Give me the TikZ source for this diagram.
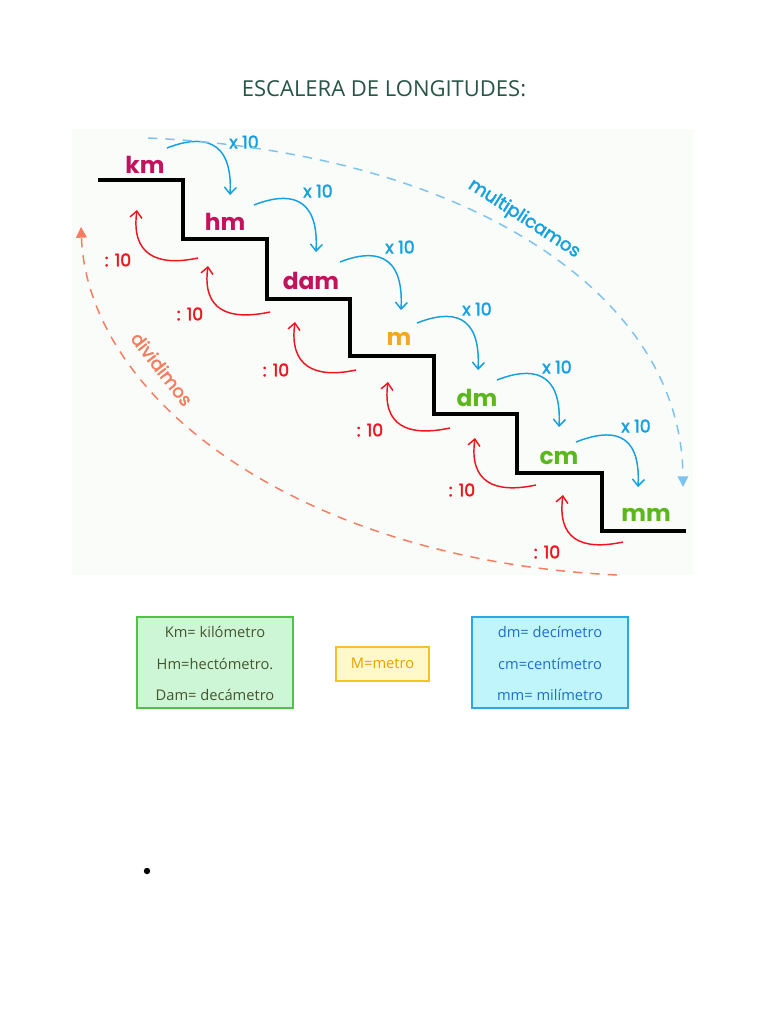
\documentclass[tikz,border=0pt]{standalone}
\usepackage{fontspec}
\setmainfont{Open Sans}
\newfontfamily\pop{Poppins}
\newfontfamily\popm{Poppins}[FakeBold=2]
\newfontfamily\boxfont{Open Sans}
\usetikzlibrary{arrows.meta,calc}
\definecolor{crim}{RGB}{194,20,94}
\definecolor{orng}{RGB}{245,166,35}
\definecolor{grn}{RGB}{92,182,30}
\definecolor{blu}{RGB}{20,160,225}
\definecolor{dblu}{RGB}{125,195,238}
\definecolor{rd}{RGB}{240,20,30}
\definecolor{salm}{RGB}{245,125,95}
\definecolor{ttl}{RGB}{40,85,70}
\definecolor{panel}{RGB}{249,252,249}
\tikzset{
  unitlbl/.style={font=\pop\bfseries\fontsize{17.5}{18}\selectfont, inner sep=0pt},
  mularrow/.style={draw=blu, line width=1.1pt, -{Straight Barb[length=5pt,width=9pt]}},
  divarrow/.style={draw=rd, line width=1.1pt, -{Straight Barb[length=5pt,width=9pt]}},
  mullbl/.style={text=blu, font=\popm\fontsize{13}{14}\selectfont, inner sep=0pt},
  divlbl/.style={text=rd, font=\popm\fontsize{13}{14}\selectfont, inner sep=0pt},
  bigdash/.style={line width=1.1pt, dash pattern=on 7pt off 6pt},
  infobox/.style={line width=0.8pt, inner sep=0pt},
  boxtxt/.style={font=\boxfont\fontsize{11}{12}\selectfont, inner sep=0pt}
}
\begin{document}
\begin{tikzpicture}[x=0.75pt,y=-0.75pt]
\useasboundingbox (0,0) rectangle (768,1024);
\fill[white] (0,0) rectangle (768,1024);
% title
\node[text=ttl, font=\fontsize{16.5}{18}\selectfont] (title) at (384,89) {ESCALERA DE LONGITUDES:};
% panel
\fill[panel] (72,129) rectangle (693,575);
% stairs
\draw[line width=2.4pt, line join=miter] (98,180) -| (183,239) -| (267,299) -| (350,356) -| (434,414) -| (517,473) -| (602,531) -- (686,531);
% unit labels
\node[unitlbl, text=crim] (km) at (145,165) {km};
\node[unitlbl, text=crim] (hm) at (225,222) {hm};
\node[unitlbl, text=crim] (dam) at (311,281) {dam};
\node[unitlbl, text=orng] (m) at (399,339) {m};
\node[unitlbl, text=grn] (dm) at (477,398) {dm};
\node[unitlbl, text=grn] (cm) at (559,458) {cm};
\node[unitlbl, text=grn] (mm) at (646,515) {mm};
% multiply arrows
\foreach \sx/\sy/\tx/\ty/\lx/\ly [count=\i] in {
  167/148/230/195/244/142,
  254/205/316/252/318/191,
  340/262/401/310/400/247,
  417/323/478/370/477/309,
  497/380/559/427/557/367,
  576/442/638/487/636/426}{
  \coordinate (b\i s) at (\sx,\sy);
  \coordinate (b\i t) at (\tx,\ty);
  \draw[mularrow] (b\i s) .. controls ($(b\i s)+(33,-13)$) and ($(b\i t)+(3,-58)$) .. (b\i t);
  \node[mullbl] (bl\i) at (\lx,\ly) {x 10};
}
% divide arrows
\foreach \sx/\sy/\tx/\ty/\lx/\ly [count=\i] in {
  198/258/137/210/118/260,
  270/312/208/266/190/314,
  356/370/295/322/276/370,
  450/428/388/382/370/430,
  536/485/475/438/462/490,
  623/542/563/495/547/552}{
  \coordinate (r\i s) at (\sx,\sy);
  \coordinate (r\i t) at (\tx,\ty);
  \draw[divarrow] (r\i s) .. controls ($(r\i s)+(-42,9)$) and ($(r\i t)+(-6,44)$) .. (r\i t);
  \node[divlbl] (rl\i) at (\lx,\ly) {: 10};
}
% big dashed arcs
\coordinate (ms) at (148,138);
\coordinate (me) at (683,487);
\draw[bigdash, draw=dblu, -{Triangle[length=8pt,width=8pt]}] (ms) .. controls (460,152) and (682,290) .. (me);
\node[text=blu, font=\popm\fontsize{13.5}{14}\selectfont, rotate=-33, inner sep=0pt] (mult) at (524,219) {multiplicamos};
\coordinate (ds) at (617,575);
\coordinate (de) at (81,227);
\draw[bigdash, draw=salm, -{Triangle[length=8pt,width=8pt]}] (ds) .. controls (300,560) and (88,400) .. (de);
\node[text=salm, font=\popm\fontsize{13.5}{14}\selectfont, rotate=-52, inner sep=0pt] (divi) at (162,369) {dividimos};
% bottom boxes
\node[infobox, draw={rgb,255:red,80;green,195;blue,70}, fill={rgb,255:red,205;green,246;blue,214}, minimum width=156*0.75pt, minimum height=91*0.75pt] (gbox) at (215,662.5) {};
\node[boxtxt, text={rgb,255:red,70;green,85;blue,45}] (t1) at (215,632) {Km= kilómetro};
\node[boxtxt, text={rgb,255:red,70;green,85;blue,45}] (t2) at (215,664) {Hm=hectómetro.};
\node[boxtxt, text={rgb,255:red,70;green,85;blue,45}] (t3) at (215,695) {Dam= decámetro};
\node[infobox, draw={rgb,255:red,245;green,195;blue,40}, fill={rgb,255:red,255;green,248;blue,200}, minimum width=93*0.75pt, minimum height=34*0.75pt] (ybox) at (382.5,664) {};
\node[boxtxt, text={rgb,255:red,232;green,160;blue,0}] (t4) at (382.5,663) {M=metro};
\node[infobox, draw={rgb,255:red,40;green,170;blue,232}, fill={rgb,255:red,192;green,246;blue,251}, minimum width=156*0.75pt, minimum height=91*0.75pt] (bbox) at (550,662.5) {};
\node[boxtxt, text={rgb,255:red,30;green,110;blue,200}] (t5) at (550,632) {dm= decímetro};
\node[boxtxt, text={rgb,255:red,30;green,110;blue,200}] (t6) at (550,664) {cm=centímetro};
\node[boxtxt, text={rgb,255:red,30;green,110;blue,200}] (t7) at (550,695) {mm= milímetro};
% bullet
\fill (147,871) circle (3.2);
\end{tikzpicture}
\end{document}
